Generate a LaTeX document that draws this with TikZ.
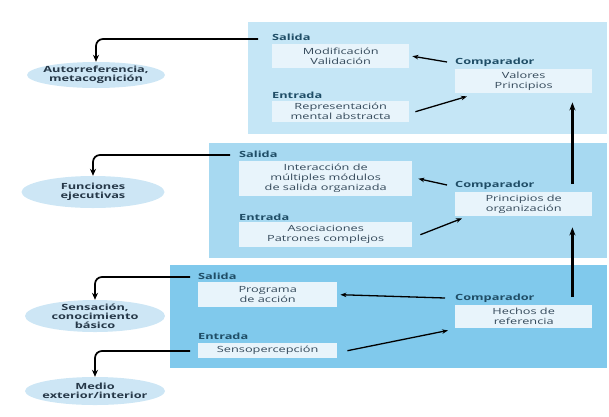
\documentclass[tikz,border=0pt]{standalone}
\usepackage{fontspec}
\setmainfont{Open Sans}[FakeStretch=1.5]
\usepackage{xcolor}
\usepackage{tikz}
\usetikzlibrary{positioning,arrows.meta,calc,shapes.geometric}

\definecolor{lvlthree}{HTML}{C5E6F6}
\definecolor{lvltwo}{HTML}{A7D9F1}
\definecolor{lvlone}{HTML}{80C9EC}
\definecolor{itembg}{HTML}{E8F4FB}
\definecolor{goalbg}{HTML}{CDE6F5}
\definecolor{tagtxt}{HTML}{1F4D66}
\definecolor{itemtxt}{HTML}{34495A}
\definecolor{goaltxt}{HTML}{263848}

\newcommand\itemfnt{\fontsize{8.5}{10}\selectfont}
\newcommand\tagfnt{\fontsize{8.5}{9}\selectfont\bfseries}
\newcommand\goalfnt{\fontsize{8.5}{9}\selectfont\bfseries}

\begin{document}
\begin{tikzpicture}[x=1pt, y=-1pt,
  panel/.style={anchor=north west, inner sep=0pt},
  item/.style={anchor=north west, fill=itembg, inner sep=1pt, align=center, text=itemtxt, font=\itemfnt},
  tag/.style={anchor=west, inner sep=0pt, text=tagtxt, font=\tagfnt},
  goal/.style={ellipse, fill=goalbg, inner xsep=-20pt, inner ysep=-12pt, align=center, text=goaltxt, font=\goalfnt},
  arr/.style={-{Stealth[length=6pt, width=4.5pt]}, line width=1.3pt},
  elbow/.style={-{Stealth[length=7pt, width=6pt]}, line width=1.7pt, rounded corners=7pt},
  rise/.style={-{Stealth[length=8pt, width=6pt]}, line width=2.2pt}
]
\useasboundingbox (0,0) rectangle (609,416);

% three levels
\node[panel, fill=lvlthree, minimum width=359pt, minimum height=112pt] (p3) at (248,22) {};
\node[panel, fill=lvltwo, minimum width=398pt, minimum height=115pt] (p2) at (209,143) {};
\node[panel, fill=lvlone, minimum width=437pt, minimum height=103pt] (p1) at (170,265) {};

\node[tag] (so3) at (272,37) {Salida};
\node[tag] (en3) at (272,95) {Entrada};
\node[tag] (co3) at (455,62) {Comparador};
\node[item, minimum width=137pt, minimum height=24pt] (out3) at (272,44) {Modificación\\Validación};
\node[item, minimum width=137pt, minimum height=21pt] (in3) at (272,101) {Representación\\mental abstracta};
\node[item, minimum width=137pt, minimum height=24pt] (cmp3) at (455,69) {Valores\\Principios};

\node[tag] (so2) at (239,154) {Salida};
\node[tag] (en2) at (239,217) {Entrada};
\node[tag] (co2) at (455,185) {Comparador};
\node[item, minimum width=173pt, minimum height=35pt] (out2) at (239,161) {Interacción de\\múltiples módulos\\de salida organizada};
\node[item, minimum width=173pt, minimum height=25pt] (in2) at (239,222) {Asociaciones\\Patrones complejos};
\node[item, minimum width=137pt, minimum height=24pt] (cmp2) at (455,192) {Principios de\\organización};

\node[tag] (so1) at (198,276) {Salida};
\node[tag] (en1) at (198,336) {Entrada};
\node[tag] (co1) at (455,298) {Comparador};
\node[item, minimum width=139pt, minimum height=25pt] (out1) at (198,282) {Programa\\de acción};
\node[item, minimum width=139pt, minimum height=15pt] (in1) at (198,343) {Sensopercepción};
\node[item, minimum width=137pt, minimum height=23pt] (cmp1) at (455,305) {Hechos de\\referencia};

% left side
\node[goal, minimum width=138pt, minimum height=26pt] (g3) at (96,75) {Autorreferencia,\\metacognición};
\node[goal, minimum width=143pt, minimum height=32pt] (g2) at (93,192) {Funciones\\ejecutivas};
\node[goal, minimum width=140pt, minimum height=32pt] (g1) at (95,316) {Sensación,\\conocimiento\\básico};
\node[goal, minimum width=140pt, minimum height=28pt] (g0) at (95,391) {Medio\\exterior/interior};

\coordinate (s3) at (258,39);
\coordinate (s2) at (230,155);
\coordinate (s1) at (190,277);
\coordinate (s0) at (190,351);
\draw[elbow] (s3) -| (g3.north);
\draw[elbow] (s2) -| (g2.north);
\draw[elbow] (s1) -| (g1.north);
\draw[elbow] (s0) -| (g0.north);

\draw[arr] ([xshift=-8pt]co3.west) -- ([xshift=3pt]out3.east);
\draw[arr] ([xshift=6pt]in3.east) -- ($(cmp3.south west)+(12,3)$);
\draw[arr] ([xshift=-8pt]co2.west) -- ([xshift=6pt]out2.east);
\draw[arr] ([xshift=8pt]in2.east) -- ($(cmp2.south west)+(7,2)$);
\draw[arr] ([xshift=-10pt]co1.west) -- ([xshift=3pt]out1.east);
\draw[arr] ([xshift=10pt]in1.east) -- ($(cmp1.south west)+(-7,2)$);

\draw[rise] ($(cmp1.north east)+(-20,-8)$) -- ($(cmp2.south east)+(-20,11)$);
\draw[rise] ($(cmp2.north east)+(-20,-8)$) -- ($(cmp3.south east)+(-20,9)$);

\end{tikzpicture}
\end{document}
